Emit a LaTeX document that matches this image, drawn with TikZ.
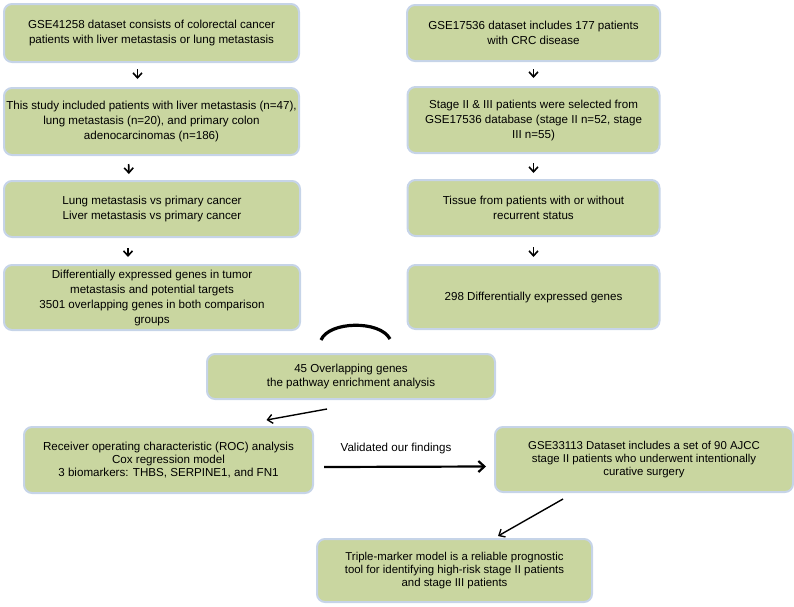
\documentclass[tikz,border=0pt]{standalone}
\usepackage{fontspec}
\setmainfont{Liberation Sans}
\usetikzlibrary{calc,arrows.meta}
\definecolor{boxfill}{RGB}{201,214,160}
\definecolor{boxline}{RGB}{198,212,232}

\begin{document}
\begin{tikzpicture}[x=1pt,y=-1pt,>={Straight Barb[length=5pt,width=9pt]},
    box/.style={draw=boxline,fill=boxfill,line width=2pt,rounded corners=8pt,align=center,inner sep=2pt,font=\fontsize{11.6}{15}\selectfont},
    lowbox/.style={box,font=\fontsize{11.4}{13.3}\selectfont},
    downarr/.style={->,line width=1.6pt}]
    \useasboundingbox (0,0) rectangle (794,606);

    % Left column: GSE41258
    \node (L0) at (151.5,33) [box,minimum width=295pt,minimum height=58pt] {GSE41258 dataset consists of colorectal cancer\\patients with liver metastasis or lung metastasis};
    \node (L1) at (151.5,121.5) [box,minimum width=295pt,minimum height=67pt] {This study included patients with liver metastasis (n=47),\\lung metastasis (n=20), and primary colon\\adenocarcinomas (n=186)};
    \node (L2) at (152,209) [box,minimum width=296pt,minimum height=56pt] {Lung metastasis vs primary cancer\\Liver metastasis vs primary cancer};
    \node (L3) at (152,297.5) [box,minimum width=296pt,minimum height=65pt] {Differentially expressed genes in tumor\\metastasis and potential targets\\3501 overlapping genes in both comparison\\groups};

    % Right column: GSE17536
    \node (R0) at (533.5,33) [box,minimum width=253pt,minimum height=56pt] {GSE17536 dataset includes 177 patients\\with CRC disease};
    \node (R1) at (533.5,120) [box,minimum width=252pt,minimum height=66pt] {Stage II \& III patients were selected from\\GSE17536 database (stage II n=52, stage\\III n=55)};
    \node (R2) at (533.5,208) [box,minimum width=252pt,minimum height=56pt] {Tissue from patients with or without\\recurrent status};
    \node (R3) at (533.5,297) [box,minimum width=252pt,minimum height=64pt] {298 Differentially expressed genes};

    % Steps down each column
    \draw [downarr,shorten <=6pt,shorten >=8pt] ([xshift=-14pt]L0.south) -- ([xshift=-14pt]L1.north);
    \draw [downarr,shorten <=8pt,shorten >=6pt] ([xshift=-23pt]L1.south) -- ([xshift=-23pt]L2.north);
    \draw [downarr,shorten <=10pt,shorten >=7pt] ([xshift=-24pt]L2.south) -- ([xshift=-24pt]L3.north);
    \draw [downarr,shorten <=7pt,shorten >=8pt] (R0.south) -- (R1.north);
    \draw [downarr,shorten <=9pt,shorten >=6pt] (R1.south) -- (R2.north);
    \draw [downarr,shorten <=10pt,shorten >=7pt] (R2.south) -- (R3.north);

    % Overlap of both lists
    \node (OVL) at (351,376.5) [lowbox,minimum width=288pt,minimum height=45pt,font=\fontsize{11.6}{13.3}\selectfont] {45 Overlapping genes\\the pathway enrichment analysis};
    \draw [line width=3.2pt] ([shift={(-30pt,13pt)}]OVL.north) .. controls +(8pt,19pt) and +(-10pt,19pt) .. ([shift={(39pt,14pt)}]OVL.north);

    % Models and validation
    \node (ROC) at (168.5,460) [lowbox,minimum width=289pt,minimum height=66pt,font=\fontsize{11.6}{13.3}\selectfont] {Receiver operating characteristic (ROC) analysis\\Cox regression model\\3 biomarkers: THBS, SERPINE1, and FN1};
    \node (VAL) at (644,459.5) [lowbox,minimum width=298pt,minimum height=65pt] {GSE33113 Dataset includes a set of 90 AJCC\\stage II patients who underwent intentionally\\curative surgery};
    \node (TRI) at (454.5,570.5) [lowbox,minimum width=275pt,minimum height=63pt] {Triple-marker model is a reliable prognostic\\tool for identifying high-risk stage II patients\\and stage III patients};

    \draw [downarr,line width=1.4pt] ([shift={(-24pt,-9pt)}]OVL.south) -- ([shift={(98pt,6pt)}]ROC.north);
    \draw [->,line width=2.2pt,>={Straight Barb[length=6pt,width=11pt]}] ([shift={(10pt,-7pt)}]ROC.east) -- ([shift={(-8pt,-7pt)}]VAL.west)
      node [midway,above=8pt,xshift=-9pt,font=\fontsize{11.6}{13}\selectfont] {Validated our findings};
    \draw [downarr,line width=1.4pt] ([shift={(-81pt,-6pt)}]VAL.south) -- ([shift={(43.5pt,2pt)}]TRI.north);
\end{tikzpicture}
\end{document}
